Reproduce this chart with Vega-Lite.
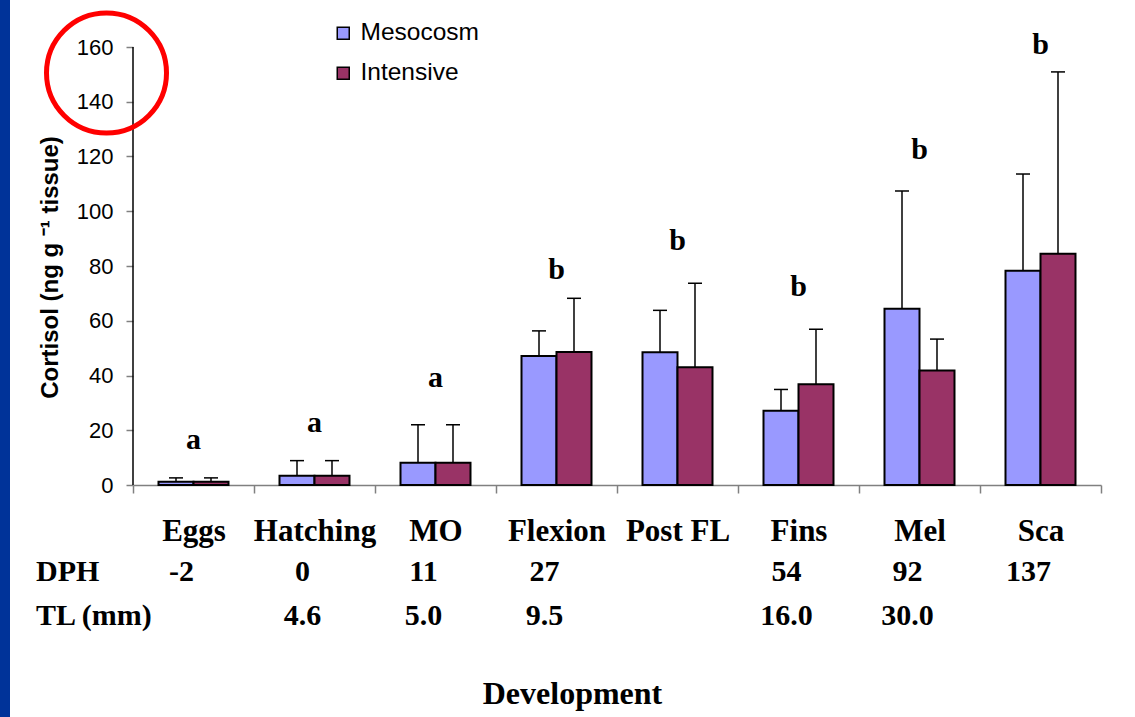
{
  "$schema": "https://vega.github.io/schema/vega-lite/v6.json",
  "autosize": {"type": "none"},
  "width": 968,
  "height": 547.5,
  "padding": {"left": 133, "top": 47, "right": 34, "bottom": 122.5},
  "background": "#003399",
  "config": {
    "view": {"fill": "white", "stroke": "white", "strokeWidth": 246},
    "font": "Liberation Sans",
    "axisY": {"labelFontSize": 22, "labelFont": "Liberation Sans", "labelColor": "black", "labelPadding": 13}
  },
  "datasets": {
    "bars": [
      {"category": "Eggs", "series": "Mesocosm", "mean": 1.2, "upper": 2.6},
      {"category": "Eggs", "series": "Intensive", "mean": 1.2, "upper": 2.6},
      {"category": "Hatching", "series": "Mesocosm", "mean": 3.4, "upper": 8.9},
      {"category": "Hatching", "series": "Intensive", "mean": 3.4, "upper": 8.9},
      {"category": "MO", "series": "Mesocosm", "mean": 8.1, "upper": 22.0},
      {"category": "MO", "series": "Intensive", "mean": 8.1, "upper": 22.0},
      {"category": "Flexion", "series": "Mesocosm", "mean": 47.1, "upper": 56.3},
      {"category": "Flexion", "series": "Intensive", "mean": 48.6, "upper": 68.2},
      {"category": "Post FL", "series": "Mesocosm", "mean": 48.5, "upper": 63.8},
      {"category": "Post FL", "series": "Intensive", "mean": 43.0, "upper": 73.7},
      {"category": "Fins", "series": "Mesocosm", "mean": 27.1, "upper": 34.9},
      {"category": "Fins", "series": "Intensive", "mean": 36.8, "upper": 56.9},
      {"category": "Mel", "series": "Mesocosm", "mean": 64.4, "upper": 107.4},
      {"category": "Mel", "series": "Intensive", "mean": 41.8, "upper": 53.3},
      {"category": "Sca", "series": "Mesocosm", "mean": 78.3, "upper": 113.6},
      {"category": "Sca", "series": "Intensive", "mean": 84.5, "upper": 150.9}
    ],
    "cats": [
      {"category": "Eggs", "letter": "a", "letterY": 16.3, "dph": "-2", "tl": ""},
      {"category": "Hatching", "letter": "a", "letterY": 22.6, "dph": "0", "tl": "4.6"},
      {"category": "MO", "letter": "a", "letterY": 39.1, "dph": "11", "tl": "5.0"},
      {"category": "Flexion", "letter": "b", "letterY": 78.5, "dph": "27", "tl": "9.5"},
      {"category": "Post FL", "letter": "b", "letterY": 89.1, "dph": "", "tl": ""},
      {"category": "Fins", "letter": "b", "letterY": 72.4, "dph": "54", "tl": "16.0"},
      {"category": "Mel", "letter": "b", "letterY": 122.4, "dph": "92", "tl": "30.0"},
      {"category": "Sca", "letter": "b", "letterY": 160.7, "dph": "137", "tl": ""}
    ]
  },
  "layer": [
    {
      "data": {"name": "bars"},
      "mark": {"type": "bar", "stroke": "black", "strokeWidth": 2, "opacity": 1},
      "encoding": {
        "x": {
          "field": "category", "type": "nominal", "sort": null,
          "scale": {"domain": ["Eggs", "Hatching", "MO", "Flexion", "Post FL", "Fins", "Mel", "Sca"], "paddingInner": 0, "paddingOuter": 0},
          "axis": {
            "title": "Development",
            "offset": -109.5,
            "tickBand": "extent",
            "domainColor": "#808080", "domainWidth": 1.5,
            "tickColor": "#808080", "tickSize": 8, "tickWidth": 1.5,
            "labelAngle": 0,
            "labelFont": "Liberation Serif", "labelFontWeight": "bold", "labelFontSize": 31, "labelColor": "black",
            "labelPadding": 23,
            "titleFont": "Liberation Serif", "titleFontWeight": "bold", "titleFontSize": 32, "titleColor": "black",
            "titleX": 439, "titleY": 208, "titleAlign": "center", "titleBaseline": "middle"
          }
        },
        "xOffset": {
          "field": "series", "type": "nominal",
          "scale": {"domain": ["Mesocosm", "Intensive"], "paddingInner": 0, "paddingOuter": 0.7286}
        },
        "y": {
          "field": "mean", "type": "quantitative",
          "scale": {"domain": [-40, 160], "nice": false, "zero": false},
          "axis": {
            "title": "Cortisol (ng g ⁻¹ tissue)",
            "values": [0, 20, 40, 60, 80, 100, 120, 140, 160],
            "domain": false, "grid": false,
            "tickColor": "#808080", "tickSize": 7, "tickWidth": 1.5,
            "labelFont": "Liberation Sans", "labelFontSize": 22, "labelColor": "black", "labelPadding": 13,
            "titleFont": "Liberation Sans", "titleFontWeight": "bold", "titleFontSize": 24, "titleColor": "black",
            "titleAngle": 270, "titleX": -83, "titleY": 220, "titleAlign": "center", "titleBaseline": "middle"
          }
        },
        "color": {
          "field": "series", "type": "nominal",
          "scale": {"domain": ["Mesocosm", "Intensive"], "range": ["#9999FF", "#993366"]},
          "legend": {
            "title": null, "orient": "none", "legendX": 198, "legendY": -26,
            "symbolType": "square", "symbolSize": 144, "symbolStrokeColor": "black", "symbolStrokeWidth": 1.5,
            "symbolOpacity": 1,
            "labelFont": "Liberation Sans", "labelFontSize": 24.5, "labelColor": "black", "labelOffset": 5,
            "rowPadding": 15, "padding": 0
          }
        }
      }
    },
    {
      "data": {"name": "bars"},
      "mark": {"type": "rule", "color": "black", "strokeWidth": 1.5},
      "encoding": {
        "x": {"field": "category", "type": "nominal"},
        "xOffset": {"field": "series", "type": "nominal"},
        "y": {"field": "mean", "type": "quantitative"},
        "y2": {"field": "upper"}
      }
    },
    {
      "data": {"name": "bars"},
      "mark": {"type": "tick", "orient": "horizontal", "color": "black", "size": 14, "thickness": 1.5, "opacity": 1},
      "encoding": {
        "x": {"field": "category", "type": "nominal"},
        "xOffset": {"field": "series", "type": "nominal"},
        "y": {"field": "upper", "type": "quantitative"}
      }
    },
    {
      "data": {"values": [{"line": "y axis"}]},
      "mark": {"type": "rule", "color": "black", "strokeWidth": 1.5},
      "encoding": {
        "x": {"datum": "Eggs", "bandPosition": 0},
        "y": {"datum": 0},
        "y2": {"datum": 160}
      }
    },
    {
      "data": {"name": "cats"},
      "mark": {"type": "text", "font": "Liberation Serif", "fontWeight": "bold", "fontSize": 30, "baseline": "middle", "color": "black"},
      "encoding": {
        "x": {"field": "category", "type": "nominal"},
        "y": {"field": "letterY", "type": "quantitative"},
        "text": {"field": "letter"}
      }
    },
    {
      "data": {"name": "cats"},
      "mark": {"type": "text", "font": "Liberation Serif", "fontWeight": "bold", "fontSize": 30, "baseline": "middle", "color": "black", "dx": -12},
      "encoding": {
        "x": {"field": "category", "type": "nominal"},
        "y": {"datum": -31.8},
        "text": {"field": "dph"}
      }
    },
    {
      "data": {"name": "cats"},
      "mark": {"type": "text", "font": "Liberation Serif", "fontWeight": "bold", "fontSize": 30, "baseline": "middle", "color": "black", "dx": -12},
      "encoding": {
        "x": {"field": "category", "type": "nominal"},
        "y": {"datum": -47.9},
        "text": {"field": "tl"}
      }
    },
    {
      "data": {"values": [{"label": "DPH"}]},
      "mark": {"type": "text", "font": "Liberation Serif", "fontWeight": "bold", "fontSize": 30, "baseline": "middle", "align": "left", "color": "black", "dx": -157.5},
      "encoding": {
        "x": {"datum": "Eggs"},
        "y": {"datum": -31.8},
        "text": {"field": "label"}
      }
    },
    {
      "data": {"values": [{"label": "TL (mm)"}]},
      "mark": {"type": "text", "font": "Liberation Serif", "fontWeight": "bold", "fontSize": 30, "baseline": "middle", "align": "left", "color": "black", "dx": -157.5},
      "encoding": {
        "x": {"datum": "Eggs"},
        "y": {"datum": -47.9},
        "text": {"field": "label"}
      }
    },
    {
      "data": {"values": [{"note": "highlight"}]},
      "mark": {
        "type": "point",
        "shape": "M -0.45,0 A 1,1 0 1,1 -2.45,0 A 1,1 0 1,1 -0.45,0 Z",
        "filled": false, "size": 14400, "stroke": "#FF0000", "strokeWidth": 5, "opacity": 1
      },
      "encoding": {
        "x": {"datum": "Eggs"},
        "y": {"datum": 150.5}
      }
    }
  ]
}
